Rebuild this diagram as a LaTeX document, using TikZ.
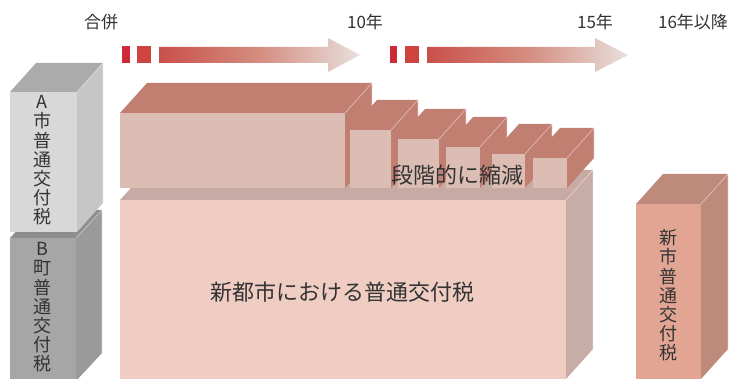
\documentclass[tikz,border=0pt]{standalone}
\usepackage{fontspec}
\setmainfont{Noto Sans CJK JP}
\definecolor{aFront}{HTML}{D8D8D8}
\definecolor{aTop}{HTML}{ABABAB}
\definecolor{aSide}{HTML}{C6C6C6}
\definecolor{bFront}{HTML}{A6A6A6}
\definecolor{bTop}{HTML}{8E8E8E}
\definecolor{bSide}{HTML}{9A9A9A}
\definecolor{mFront}{HTML}{EFCDC3}
\definecolor{mTop}{HTML}{C8AAA4}
\definecolor{mSide}{HTML}{C8ACA6}
\definecolor{uFront}{HTML}{DBBDB3}
\definecolor{uTop}{HTML}{C17F72}
\definecolor{nFront}{HTML}{E3A593}
\definecolor{nTop}{HTML}{BE8A7C}
\definecolor{nSide}{HTML}{BE8A7C}
\definecolor{txt}{HTML}{333333}
\definecolor{dashA}{HTML}{CC2A38}
\definecolor{dashB}{HTML}{D0443F}
\definecolor{arrL}{HTML}{C9504A}
\definecolor{arrM}{HTML}{D58D80}
\definecolor{arrR}{HTML}{E8E0DD}
% x1 x2 ytop ybot dx dy front top side
\newcommand\mybox[9]{%
  \fill[#7] (#1,#3) rectangle (#2,#4);
  \fill[#8] (#1,#3) -- ({#1+#5},{#3+#6}) -- ({#2+#5},{#3+#6}) -- (#2,#3) -- cycle;
  \fill[#9] (#2,#3) -- ({#2+#5},{#3+#6}) -- ({#2+#5},{#4+#6}) -- (#2,#4) -- cycle;
  \draw[white, opacity=.45, line width=.6pt] (#2,#3) -- ({#2+#5},{#3+#6}) -- ({#2+#5},{#4+#6});
}
\tikzset{
  lbl/.style={text=txt, inner sep=0pt, font=\fontsize{17}{17}\selectfont},
  big/.style={text=txt, inner sep=0pt, font=\fontsize{22}{22}\selectfont},
  vert/.style={text=txt, inner sep=0pt, align=center, font=\fontsize{18}{19.2}\selectfont},
  dashbox/.style={fill=#1},
}
\begin{document}
\begin{tikzpicture}[x=1pt,y=-1pt]
\useasboundingbox (0,0) rectangle (744,379);
\clip (0,0) rectangle (744,379);

% timeline labels
\node[lbl] (t0) at (101,22) {合併};
\node[lbl] (t10) at (365,22) {10年};
\node[lbl] (t15) at (595,22) {15年};
\node[lbl] (t16) at (693,22) {16年以降};

% arrows
\fill[dashA] (122,46) rectangle (130,63);
\fill[dashB] (137,46) rectangle (151,63);
\shade[left color=arrL, right color=arrR, middle color=arrM]
  (159,47) -- (328,47) -- (328,38) -- (360,55) -- (328,72) -- (328,63) -- (159,63) -- cycle;
\fill[dashA] (390,46) rectangle (397,63);
\fill[dashB] (405,46) rectangle (419,63);
\shade[left color=arrL, right color=arrR, middle color=arrM]
  (427,47) -- (595,47) -- (595,38) -- (628,55) -- (595,72) -- (595,63) -- (427,63) -- cycle;

% left boxes
\mybox{10}{76}{238}{381}{26}{-28}{bFront}{bTop}{bSide}
\mybox{10}{77}{92}{232}{26}{-29}{aFront}{aTop}{aSide}
\node[vert] (atext) at (42,160.5) {A\\市\\普\\通\\交\\付\\税};
\node[vert] (btext) at (42,307.5) {B\\町\\普\\通\\交\\付\\税};

% main box
\mybox{120}{566}{200}{379}{27}{-30}{mFront}{mTop}{mSide}
% stepped upper boxes
\mybox{120}{345}{113}{188}{27}{-30}{uFront}{uTop}{uTop}
\mybox{350}{391}{130}{188}{27}{-30}{uFront}{uTop}{uTop}
\mybox{398}{439}{139}{188}{27}{-30}{uFront}{uTop}{uTop}
\mybox{446}{480}{147}{188}{27}{-30}{uFront}{uTop}{uTop}
\mybox{492}{525}{154}{188}{27}{-30}{uFront}{uTop}{uTop}
\mybox{533}{567}{158}{188}{27}{-30}{uFront}{uTop}{uTop}
\node[big] (reduce) at (457,175) {段階的に縮減};
\node[big] (main) at (342,292) {新都市における普通交付税};

% new city box
\mybox{636}{701}{204}{379}{27}{-30}{nFront}{nTop}{nSide}
\node[vert] (ntext) at (668,295.5) {新\\市\\普\\通\\交\\付\\税};
\end{tikzpicture}
\end{document}
